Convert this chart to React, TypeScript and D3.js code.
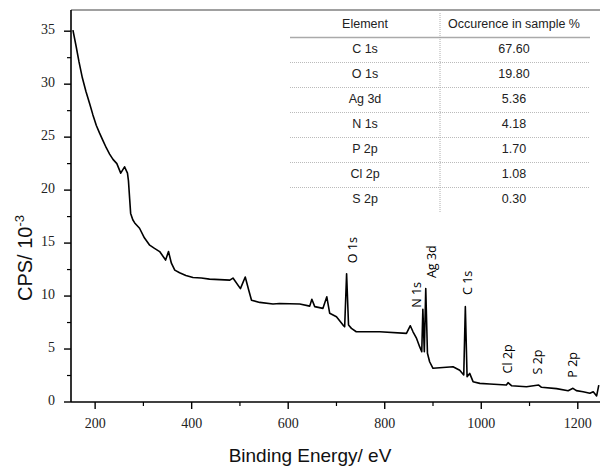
import React from "react";
import * as d3 from "d3";

const energy = [154, 160.5, 166.6, 173.5, 181, 189, 195.4, 202.5, 209, 216, 223, 230, 237, 245, 253, 261, 267, 269, 271.5, 273.6, 278, 282, 292, 302, 313, 323, 333.7, 346, 352, 358, 365, 375, 388, 402.7, 420, 437, 458, 479, 485.6, 501, 511, 518, 524, 541, 568.5, 582, 624, 644.6, 649, 655, 672, 680, 686, 700, 713.6, 717, 721, 725, 731, 741, 789.6, 845, 853, 858.6, 866, 872.5, 876.7, 879, 882, 885, 888.5, 893, 900, 941.5, 955.4, 963.7, 967, 970.6, 976, 983, 997, 1017.6, 1052, 1055.5, 1062.6, 1093.7, 1119, 1124.8, 1156, 1180, 1190, 1197, 1211, 1225, 1232, 1239, 1243.5];
const cps = [35.1, 33.6, 32.1, 30.6, 29.3, 28.1, 27.1, 26.1, 25.4, 24.7, 24.0, 23.4, 22.9, 22.5, 21.6, 22.2, 21.6, 20.9, 19.2, 17.8, 17.2, 16.9, 16.4, 15.5, 14.8, 14.5, 14.2, 13.4, 14.2, 13.1, 12.45, 12.2, 11.95, 11.75, 11.7, 11.6, 11.55, 11.5, 11.7, 10.7, 11.8, 10.6, 9.6, 9.4, 9.25, 9.3, 9.25, 9.05, 9.7, 9.0, 8.84, 9.93, 8.37, 8.05, 7.26, 7.1, 12.1, 7.26, 6.95, 6.63, 6.63, 6.48, 7.2, 6.63, 6.0, 5.2, 4.75, 8.75, 4.75, 10.7, 4.6, 3.8, 3.18, 3.33, 3.0, 2.55, 9.0, 2.39, 2.7, 1.92, 1.76, 1.7, 1.6, 1.82, 1.54, 1.44, 1.6, 1.39, 1.26, 1.07, 1.29, 1.07, 0.97, 0.82, 0.97, 0.57, 1.6];

const peakLabels = ["O 1s", "N 1s", "Ag 3d", "C 1s", "Cl 2p", "S 2p", "P 2p"];
const peakE = [733, 866, 897, 972, 1055, 1116, 1189];
const peakV = [13.1, 8.9, 11.7, 10.1, 2.7, 2.6, 2.3];

const elements = ["C 1s", "O 1s", "Ag 3d", "N 1s", "P 2p", "Cl 2p", "S 2p"];
const occurrence = ["67.60", "19.80", "5.36", "4.18", "1.70", "1.08", "0.30"];
const tableHeaders = ["Element", "Occurence in sample %"];

const xMajor = [200, 400, 600, 800, 1000, 1200];
const xMinor = [300, 500, 700, 900, 1100];
const yMajor = [0, 5, 10, 15, 20, 25, 30, 35];
const yMinor = [2.5, 7.5, 12.5, 17.5, 22.5, 27.5, 32.5];

const W = 600, H = 466;
const left = 71, right = 600, top = 10, bottom = 402;

export default function App() {
  const x = d3.scaleLinear().domain([150, 1246]).range([left, right]);
  const y = d3.scaleLinear().domain([0, 37]).range([bottom, top]);
  const pts = energy.map((e, i) => [e, cps[i]] as [number, number]);
  const line = d3.line<[number, number]>().x(d => x(d[0])).y(d => y(d[1])).curve(d3.curveLinear);

  const serif = "'Liberation Serif', 'Times New Roman', serif";
  const sans = "'Liberation Sans', Arial, sans-serif";
  const labelFont = "'Open Sans', 'Noto Sans', sans-serif";

  const tLeft = 290, tRight = 590, colDiv = 440;
  const c1 = 365, c2 = 514;
  const headerY = 25, rowH = 25, firstRow = 50;

  return (
    <div style={{ position: "absolute", left: 0, top: 0 }}>
      <svg width={W} height={H} style={{ display: "block", background: "#fff" }}>
        <line x1={left} x2={right} y1={top} y2={top} stroke="#808080" strokeWidth={1.5} />
        <g fontFamily={sans} fontSize={12.5} fill="#222">
          <text x={c1} y={headerY} textAnchor="middle" dominantBaseline="middle">{tableHeaders[0]}</text>
          <text x={c2} y={headerY} textAnchor="middle" dominantBaseline="middle">{tableHeaders[1]}</text>
          <line x1={tLeft} x2={tRight} y1={37.5} y2={37.5} stroke="#aaa" strokeWidth={1.3} />
          <line x1={colDiv} x2={colDiv} y1={13} y2={212} stroke="#999" strokeWidth={0.8} strokeDasharray="1,1" />
          {elements.map((el, i) => (
            <g key={el}>
              <text x={c1} y={firstRow + i * rowH} textAnchor="middle" dominantBaseline="middle">{el}</text>
              <text x={c2} y={firstRow + i * rowH} textAnchor="middle" dominantBaseline="middle">{occurrence[i]}</text>
              {i < elements.length - 1 && (
                <line x1={tLeft} x2={tRight} y1={firstRow + i * rowH + 12.5} y2={firstRow + i * rowH + 12.5}
                  stroke="#aaa" strokeWidth={0.8} strokeDasharray="1,1" />
              )}
            </g>
          ))}
        </g>
        <path d={line(pts) || ""} fill="none" stroke="#000" strokeWidth={1.6} strokeLinejoin="round" />
        <g fontFamily={labelFont} fontSize={12.5} fill="#000">
          {peakLabels.map((lab, i) => (
            <text key={lab} transform={`translate(${x(peakE[i])},${y(peakV[i])}) rotate(-90)`} dy="0.35em">{lab}</text>
          ))}
        </g>
        <line x1={left} x2={left} y1={top} y2={bottom} stroke="#000" strokeWidth={1.6} />
        <line x1={left} x2={right} y1={bottom} y2={bottom} stroke="#000" strokeWidth={1.6} />
        {yMajor.map(v => (
          <g key={"ym" + v}>
            <line x1={left - 7} x2={left} y1={y(v)} y2={y(v)} stroke="#000" strokeWidth={1.4} />
            <text x={55} y={y(v)} textAnchor="end" dominantBaseline="middle" fontFamily={serif} fontSize={14} fill="#222">{v}</text>
          </g>
        ))}
        {yMinor.map(v => (
          <line key={"yn" + v} x1={left - 4} x2={left} y1={y(v)} y2={y(v)} stroke="#000" strokeWidth={1.2} />
        ))}
        {xMajor.map(v => (
          <g key={"xm" + v}>
            <line x1={x(v)} x2={x(v)} y1={bottom} y2={bottom + 7} stroke="#000" strokeWidth={1.4} />
            <text x={x(v)} y={425} textAnchor="middle" dominantBaseline="middle" fontFamily={serif} fontSize={14} fill="#222">{v}</text>
          </g>
        ))}
        {xMinor.map(v => (
          <line key={"xn" + v} x1={x(v)} x2={x(v)} y1={bottom} y2={bottom + 4} stroke="#000" strokeWidth={1.2} />
        ))}
        <text x={310} y={462} textAnchor="middle" fontFamily={sans} fontSize={19} fill="#111">Binding Energy/ eV</text>
        <text transform="translate(32,258) rotate(-90)" textAnchor="middle" fontFamily={sans} fontSize={20} fill="#111">
          CPS/ 10<tspan dy="-8" fontSize={13}>-3</tspan>
        </text>
      </svg>
    </div>
  );
}
